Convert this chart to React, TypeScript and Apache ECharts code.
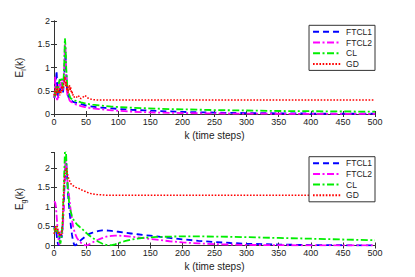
import React, { useEffect, useRef } from "react";
import * as echarts from "echarts";

const seriesNames = ["FTCL1", "FTCL2", "CL", "GD"];
const xTicks = [0, 50, 100, 150, 200, 250, 300, 350, 400, 450, 500];

// Top panel: E_l(k)
const kTop = [
  0, 1, 2, 3, 4, 5, 6, 7, 8, 9, 10, 11, 12, 13, 14, 15, 16, 17, 18, 19, 20,
  21, 22, 23, 24, 25, 26, 27, 28, 29, 30,
  32, 35, 38, 40, 42, 45, 48, 50, 52, 55, 60, 70, 80, 90, 100, 120, 140, 160,
  180, 200, 250, 300, 350, 400, 450, 500,
];
const topFTCL1 = [
  0.38, 0.35, 0.45, 0.7, 0.93, 0.6, 0.4, 0.35, 0.45, 0.5, 0.55, 0.6, 0.65,
  0.55, 0.45, 0.6, 0.8, 1.1, 1.3, 0.9, 0.6, 0.45, 0.4, 0.35, 0.38, 0.32, 0.3,
  0.3, 0.28, 0.27, 0.26,
  0.25, 0.24, 0.23, 0.22, 0.21, 0.2, 0.19, 0.18, 0.175, 0.17, 0.16, 0.14,
  0.13, 0.12, 0.11, 0.09, 0.08, 0.065, 0.055, 0.045, 0.03, 0.02, 0.015, 0.01,
  0.008, 0.006,
];
const topFTCL2 = [
  0.35, 0.45, 0.8, 0.5, 0.35, 0.3, 0.35, 0.5, 0.65, 0.7, 0.6, 0.55, 0.75, 0.6,
  0.5, 0.7, 1.0, 1.5, 1.4, 0.9, 0.5, 0.4, 0.45, 0.35, 0.3, 0.28, 0.27, 0.26,
  0.25, 0.24, 0.23,
  0.22, 0.2, 0.19, 0.18, 0.17, 0.16, 0.15, 0.145, 0.14, 0.13, 0.12, 0.105,
  0.09, 0.08, 0.07, 0.05, 0.04, 0.03, 0.025, 0.02, 0.012, 0.008, 0.005, 0.004,
  0.003, 0.002,
];
const topCL = [
  0.4, 0.38, 0.5, 0.55, 0.6, 0.5, 0.45, 0.6, 0.7, 0.75, 0.72, 0.7, 0.76, 0.65,
  0.55, 0.75, 1.1, 1.63, 1.45, 1.0, 0.75, 0.55, 0.5, 0.45, 0.4, 0.36, 0.34,
  0.33, 0.32, 0.31, 0.3,
  0.29, 0.28, 0.27, 0.26, 0.25, 0.24, 0.23, 0.225, 0.22, 0.21, 0.2, 0.185,
  0.17, 0.16, 0.15, 0.135, 0.125, 0.115, 0.105, 0.1, 0.085, 0.075, 0.065,
  0.06, 0.055, 0.05,
];
const topGD = [
  0.4, 0.45, 0.55, 0.4, 0.5, 0.6, 0.45, 0.5, 0.55, 0.4, 0.5, 0.45, 0.6, 0.5,
  0.55, 0.65, 0.7, 0.8, 0.6, 0.7, 0.5, 0.6, 0.45, 0.55, 0.62, 0.5, 0.58, 0.45,
  0.5, 0.4, 0.42,
  0.35, 0.36, 0.4, 0.34, 0.33, 0.36, 0.4, 0.38, 0.35, 0.33, 0.31, 0.3, 0.3,
  0.3, 0.3, 0.3, 0.3, 0.3, 0.3, 0.3, 0.3, 0.3, 0.3, 0.3, 0.3, 0.3,
];

// Bottom panel: E_g(k)
const kBot = [
  0, 1, 2, 3, 4, 5, 6, 7, 8, 9, 10, 11, 12, 13, 14, 15, 16, 17, 18, 19, 20,
  21, 22, 23, 24, 25, 26, 27, 28, 29, 30, 31, 32, 33, 34, 35, 36,
  38, 40, 42, 45, 48, 50, 52, 55, 60, 65, 70, 75, 80, 85, 90, 95, 100, 110,
  120, 130, 140, 150, 160, 180, 200, 225, 250, 275, 300, 350, 400, 450, 500,
];
const botFTCL1 = [
  0.5, 0.45, 0.35, 0.4, 0.3, 0.15, 0.05, 0.0, 0.1, 0.3, 0.35, 0.3, 0.2, 0.4,
  0.7, 1.0, 1.4, 1.8, 2.1, 2.15, 1.9, 1.6, 1.3, 1.1, 0.9, 0.75, 0.55, 0.4,
  0.28, 0.18, 0.1, 0.04, 0.01, 0.0, 0.01, 0.03, 0.05,
  0.08, 0.11, 0.14, 0.18, 0.22, 0.25, 0.27, 0.3, 0.33, 0.36, 0.38, 0.39, 0.39,
  0.385, 0.375, 0.365, 0.355, 0.33, 0.31, 0.29, 0.27, 0.255, 0.235, 0.195,
  0.16, 0.12, 0.09, 0.065, 0.045, 0.025, 0.012, 0.006, 0.003,
];
const botFTCL2 = [
  1.12, 1.13, 1.1, 1.0, 0.8, 0.55, 0.35, 0.15, 0.02, 0.05, 0.2, 0.35, 0.38,
  0.3, 0.5, 0.9, 1.4, 1.9, 2.2, 2.1, 1.85, 1.65, 1.5, 1.35, 1.2, 1.05, 0.9,
  0.78, 0.66, 0.56, 0.48, 0.41, 0.35, 0.3, 0.26, 0.22, 0.19,
  0.14, 0.1, 0.07, 0.035, 0.01, 0.0, 0.01, 0.03, 0.08, 0.12, 0.16, 0.19, 0.22,
  0.24, 0.25, 0.255, 0.255, 0.245, 0.23, 0.21, 0.19, 0.17, 0.15, 0.11, 0.08,
  0.055, 0.035, 0.025, 0.015, 0.008, 0.004, 0.002, 0.001,
];
const botCL = [
  0.45, 0.4, 0.35, 0.45, 0.5, 0.4, 0.3, 0.35, 0.25, 0.1, 0.05, 0.15, 0.3, 0.5,
  0.9, 1.4, 1.9, 2.4, 2.6, 2.3, 1.9, 1.6, 1.35, 1.2, 1.05, 0.95, 0.88, 0.82,
  0.76, 0.72, 0.68, 0.65, 0.62, 0.6, 0.58, 0.56, 0.54,
  0.51, 0.48, 0.45, 0.41, 0.36, 0.33, 0.3, 0.26, 0.2, 0.14, 0.09, 0.05, 0.02,
  0.005, 0.01, 0.03, 0.06, 0.11, 0.15, 0.18, 0.2, 0.21, 0.22, 0.23, 0.235,
  0.235, 0.23, 0.225, 0.215, 0.195, 0.175, 0.155, 0.135,
];
const botGD = [
  0.3, 0.4, 0.5, 0.35, 0.45, 0.5, 0.4, 0.3, 0.35, 0.25, 0.3, 0.25, 0.3, 0.5,
  0.9, 1.3, 1.6, 1.85, 1.95, 2.0, 1.95, 1.85, 1.78, 1.72, 1.68, 1.64, 1.6,
  1.58, 1.56, 1.55, 1.54, 1.53, 1.52, 1.51, 1.5, 1.5, 1.49,
  1.48, 1.46, 1.44, 1.42, 1.4, 1.38, 1.37, 1.35, 1.33, 1.32, 1.31, 1.305, 1.3,
  1.3, 1.3, 1.3, 1.3, 1.3, 1.3, 1.3, 1.3, 1.3, 1.3, 1.3, 1.3, 1.3, 1.3, 1.3,
  1.3, 1.3, 1.3, 1.3, 1.3,
];

const FONT = "'Liberation Sans', Arial, Helvetica, sans-serif";
const colors = ["#0000ff", "#ff00ff", "#00ee00", "#ff0000"];
const dashes: any[] = [[6, 4], [7, 2.5, 2, 2.5], [7, 2.5, 2, 2.5], [1.6, 1.6]];
const widths = [1.8, 1.8, 1.8, 1.5];

const zip = (k: number[], v: number[]) => k.map((x, i) => [x, v[i]]);

function xAxes(grid: number): any[] {
  return [
    {
      type: "value",
      gridIndex: grid,
      position: "bottom",
      min: 0,
      max: 500,
      interval: 50,
      axisLine: { lineStyle: { color: "#333", width: 1 } },
      axisTick: { inside: true, length: 3, lineStyle: { color: "#333" } },
      axisLabel: { fontSize: 9, color: "#222", margin: 3, fontFamily: FONT },
      splitLine: { show: false },
      name: "k (time steps)",
      nameLocation: "middle",
      nameGap: 16,
      nameTextStyle: { fontSize: 10, color: "#222", fontFamily: FONT },
    },
    {
      type: "value",
      gridIndex: grid,
      position: "top",
      min: 0,
      max: 500,
      interval: 50,
      axisLine: { lineStyle: { color: "#333", width: 1 } },
      axisTick: { inside: true, length: 3, lineStyle: { color: "#333" } },
      axisLabel: { show: false },
      splitLine: { show: false },
    },
  ];
}

function yAxes(grid: number, max: number, label: string): any[] {
  return [
    {
      type: "value",
      gridIndex: grid,
      position: "left",
      min: 0,
      max,
      interval: 0.5,
      axisLine: { show: true, lineStyle: { color: "#333", width: 1 } },
      axisTick: { show: true, inside: true, length: 3, lineStyle: { color: "#333" } },
      axisLabel: {
        fontSize: 9,
        color: "#222",
        margin: 4,
        fontFamily: FONT,
        showMaxLabel: max === 2,
      },
      splitLine: { show: false },
      name: `{a|E}{s|${label}}{a|(k)}`,
      nameLocation: "middle",
      nameRotate: 90,
      nameGap: 15,
      nameTextStyle: {
        color: "#222",
        rich: {
          a: { fontSize: 10, lineHeight: 14, verticalAlign: "middle", fontFamily: FONT, color: "#222" },
          s: { fontSize: 7, lineHeight: 7, verticalAlign: "bottom", fontFamily: FONT, color: "#222" },
        },
      },
    },
    {
      type: "value",
      gridIndex: grid,
      position: "right",
      min: 0,
      max,
      interval: 0.5,
      axisLine: { show: true, lineStyle: { color: "#333", width: 1 } },
      axisTick: { show: true, inside: true, length: 3, lineStyle: { color: "#333" } },
      axisLabel: { show: false },
      splitLine: { show: false },
    },
  ];
}

function makeSeries(grid: number, k: number[], vals: number[][]): any[] {
  return vals.map((v, i) => ({
    name: seriesNames[i],
    type: "line",
    xAxisIndex: grid * 2,
    yAxisIndex: grid * 2,
    data: zip(k, v),
    showSymbol: false,
    symbol: "none",
    clip: true,
    lineStyle: { color: colors[i], width: widths[i], type: dashes[i] },
    itemStyle: { color: colors[i] },
  }));
}

function legendAt(top: number): any {
  return {
    orient: "vertical",
    right: 40,
    top,
    data: seriesNames,
    itemWidth: 28,
    itemHeight: 8,
    itemGap: 1.7,
    padding: [2, 3, 2, 3],
    borderColor: "#333",
    borderWidth: 1,
    backgroundColor: "#fff",
    itemStyle: { opacity: 0 },
    textStyle: { fontSize: 8.5, lineHeight: 8, color: "#222", fontFamily: FONT },
  };
}

export default function App() {
  const ref = useRef<HTMLDivElement>(null);
  useEffect(() => {
    if (!ref.current) return;
    const chart = echarts.init(ref.current, undefined, { renderer: "svg" });
    chart.setOption({
      animation: false,
      backgroundColor: "#fff",
      grid: [
        { left: 54, right: 40, top: 21, height: 93 },
        { left: 54, right: 40, top: 152.5, height: 93 },
      ],
      xAxis: [...xAxes(0), ...xAxes(1)],
      yAxis: [...yAxes(0, 2, "l"), ...yAxes(1, 2.4, "g")],
      legend: [legendAt(25.3), legendAt(156.7)],
      series: [
        ...makeSeries(0, kTop, [topFTCL1, topFTCL2, topCL, topGD]),
        ...makeSeries(1, kBot, [botFTCL1, botFTCL2, botCL, botGD]),
      ],
    });
    return () => chart.dispose();
  }, []);
  return (
    <div
      ref={ref}
      style={{ position: "fixed", left: 0, top: 0, width: 415, height: 277 }}
    />
  );
}
